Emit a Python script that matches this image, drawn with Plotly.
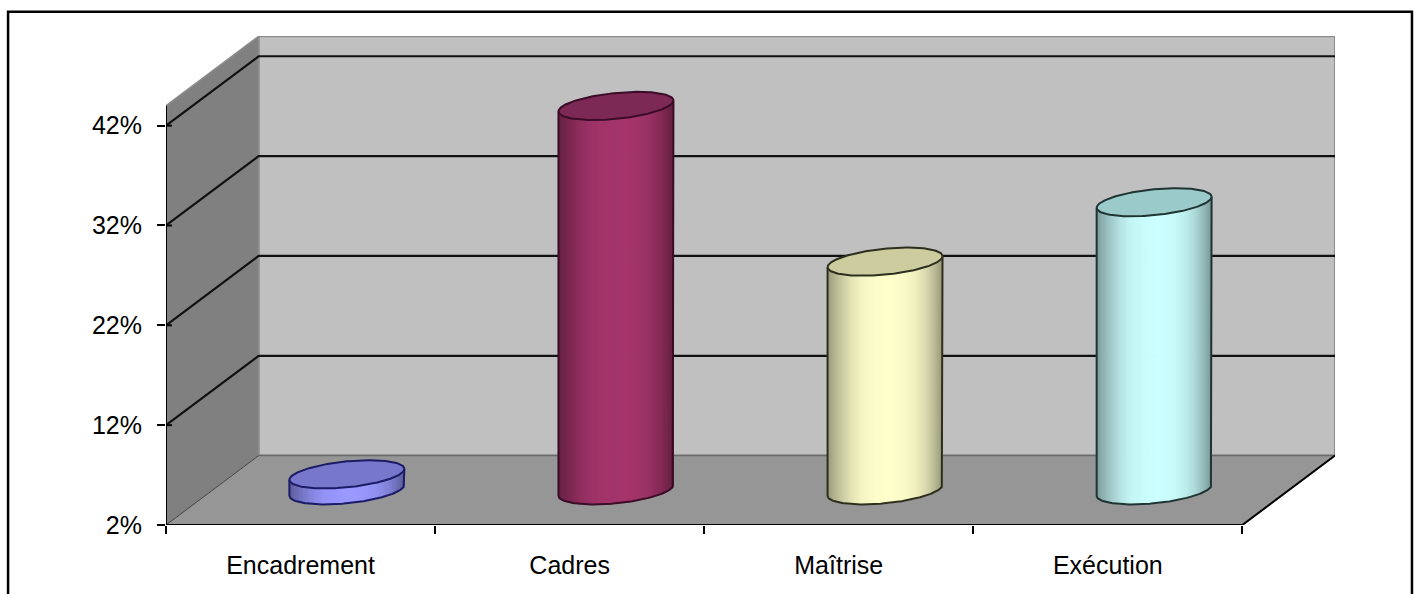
import numpy as np
import plotly.graph_objects as go

# Chart values
categories = ["Encadrement", "Cadres", "Maîtrise", "Exécution"]
shares = [3.6, 40.5, 24.9, 30.85]
y_ticks = [2, 12, 22, 32, 42]
grid_levels = [12, 22, 32, 42]
side_colors = ["#9999FF", "#A5366C", "#FFFFCC", "#CCFFFF"]
cap_colors = ["#7777CC", "#7C2A55", "#CCCC9F", "#9BCACA"]
edge_colors = ["#1B1B66", "#3A0C28", "#2E2E1E", "#1F3333"]

# Pseudo-3D projection, in axis units
WIDTH, HEIGHT = 1414, 594
LEFT, RIGHT, TOP, BOTTOM = 165.5, 1335.0, 35.7, 525.5
CAT_PX = 269.2
VAL_PX = 10.0
DEPTH_X = (RIGHT - LEFT) / CAT_PX - 4
DEPTH_Y = 6.95
Y_MIN, Y_TOP = 2, 44
RADIUS = 57.5 / CAT_PX
TILT = 0.55
MINOR = 1.3

x_range = [0, 4 + DEPTH_X]
y_range = [Y_MIN, Y_MIN + (BOTTOM - TOP) / VAL_PX]

# Shading profile across a cylinder, from left edge to right edge
SHADE_U = [0, 0.05, 0.12, 0.2, 0.3, 0.42, 0.55, 0.68, 0.78, 0.86, 0.93, 1]
SHADE_F = [0.60, 0.68, 0.78, 0.88, 0.96, 0.99, 1.0, 0.98, 0.93, 0.85, 0.74, 0.60]


def shade(color, f):
    r, g, b = (int(color[i:i + 2], 16) for i in (1, 3, 5))
    return f"rgb({r * f:.0f},{g * f:.0f},{b * f:.0f})"


fig = go.Figure()


def poly(xs, ys, fill, line=None, width=0):
    fig.add_trace(go.Scatter(
        x=list(xs), y=list(ys), mode="lines", fill="toself", fillcolor=fill,
        line=dict(color=line or fill, width=width), hoverinfo="skip",
        showlegend=False, cliponaxis=False,
    ))


def path(xs, ys, color, width):
    fig.add_trace(go.Scatter(
        x=list(xs), y=list(ys), mode="lines", line=dict(color=color, width=width),
        hoverinfo="skip", showlegend=False, cliponaxis=False,
    ))


# Walls and floor
poly([0, DEPTH_X, DEPTH_X, 0, 0],
     [Y_MIN, Y_MIN + DEPTH_Y, Y_TOP + DEPTH_Y, Y_TOP, Y_MIN], "#808080")
poly([DEPTH_X, 4 + DEPTH_X, 4 + DEPTH_X, DEPTH_X, DEPTH_X],
     [Y_MIN + DEPTH_Y, Y_MIN + DEPTH_Y, Y_TOP + DEPTH_Y, Y_TOP + DEPTH_Y, Y_MIN + DEPTH_Y],
     "#C0C0C0", "#8C8C8C", 2)
poly([0, 4, 4 + DEPTH_X, DEPTH_X, 0],
     [Y_MIN, Y_MIN, Y_MIN + DEPTH_Y, Y_MIN + DEPTH_Y, Y_MIN], "#969696")
path([0, DEPTH_X, DEPTH_X], [Y_TOP, Y_TOP + DEPTH_Y, Y_MIN + DEPTH_Y], "#8C8C8C", 1.5)
path([DEPTH_X, 4 + DEPTH_X], [Y_MIN + DEPTH_Y] * 2, "#6A6A6A", 1.5)
path([0, DEPTH_X], [Y_MIN, Y_MIN + DEPTH_Y], "#404040", 1)

# Gridlines run along the left wall and across the back wall
for level in grid_levels:
    path([0, DEPTH_X, 4 + DEPTH_X], [level, level + DEPTH_Y, level + DEPTH_Y], "#111111", 2.2)
    path([0, 0.022], [level, level], "#000000", 2)
path([0, 0.022], [Y_MIN, Y_MIN], "#000000", 2)

# Front edges of the floor and the value axis
path([0, 4, 4 + DEPTH_X], [Y_MIN, Y_MIN, Y_MIN + DEPTH_Y], "#000000", 2)
path([0, 0], [Y_MIN, Y_TOP], "#000000", 2)

# Cylinders
t_front = np.linspace(0, np.pi, 121)
t_full = np.linspace(0, 2 * np.pi, 181)
base_y = Y_MIN + DEPTH_Y / 2

for i, value in enumerate(shares):
    cx = i + 0.5 + DEPTH_X / 2
    top_y = base_y + value - Y_MIN

    # Side wall as narrow vertical strips
    n = 115
    edges = np.linspace(-1, 1, n + 1)
    for a, b in zip(edges[:-1], edges[1:]):
        c = np.linspace(a, b, 3)
        s = np.sqrt(np.clip(1 - c ** 2, 0, 1))
        low = base_y + TILT * c - MINOR * s
        high = top_y + TILT * c - MINOR * s
        f = float(np.interp((a + b + 2) / 4, SHADE_U, SHADE_F))
        poly(cx + RADIUS * np.r_[c, c[::-1], c[0]],
             np.r_[low, high[::-1], low[0]],
             shade(side_colors[i], f), width=1)

    # Outline of the side wall
    bx = cx + RADIUS * np.cos(t_front)
    by = base_y + TILT * np.cos(t_front) - MINOR * np.sin(t_front)
    path(np.r_[cx + RADIUS, bx, cx - RADIUS],
         np.r_[top_y + TILT, by, top_y - TILT], edge_colors[i], 2)

    # Top cap
    poly(cx + RADIUS * np.cos(t_full),
         top_y + TILT * np.cos(t_full) - MINOR * np.sin(t_full),
         cap_colors[i], edge_colors[i], 2)

# Category labels sit on an overlaid axis so they fall between the tick marks
fig.add_trace(go.Scatter(x=[0.5], y=[Y_MIN], xaxis="x2", mode="markers",
                         marker=dict(opacity=0), hoverinfo="skip", showlegend=False))

font = dict(family="Liberation Sans, Arial, sans-serif", size=25, color="#000000")
fig.update_layout(
    width=WIDTH, height=HEIGHT, autosize=False,
    margin=dict(l=LEFT, r=WIDTH - RIGHT, t=TOP, b=HEIGHT - BOTTOM, pad=0, autoexpand=False),
    paper_bgcolor="#FFFFFF", plot_bgcolor="rgba(0,0,0,0)", showlegend=False,
    xaxis=dict(range=x_range, tickvals=[0, 1, 2, 3, 4], ticktext=[""] * 5,
               ticks="outside", ticklen=8, tickwidth=2, tickcolor="#000000",
               showgrid=False, zeroline=False, showline=False, fixedrange=True),
    xaxis2=dict(range=x_range, overlaying="x", side="bottom", anchor="y",
                tickvals=[0.5, 1.5, 2.5, 3.5], ticktext=categories,
                ticks="outside", ticklen=18, tickcolor="rgba(0,0,0,0)",
                tickfont=font, showgrid=False, zeroline=False, showline=False,
                fixedrange=True),
    yaxis=dict(range=y_range, tickvals=y_ticks, ticktext=[f"{v}%" for v in y_ticks],
               ticks="outside", ticklen=8, tickwidth=2, tickcolor="#000000",
               ticklabelstandoff=10,
               tickfont=font, showgrid=False, zeroline=False, showline=False,
               fixedrange=True),
    shapes=[dict(type="rect", xref="paper", yref="paper",
                 x0=(7.5 - LEFT) / (RIGHT - LEFT), x1=(1412.0 - LEFT) / (RIGHT - LEFT),
                 y0=(BOTTOM - 600) / (BOTTOM - TOP), y1=(BOTTOM - 11.5) / (BOTTOM - TOP),
                 line=dict(color="#000000", width=2.5), fillcolor="rgba(0,0,0,0)")],
)

fig.write_html("out.html", config=dict(displayModeBar=False))
